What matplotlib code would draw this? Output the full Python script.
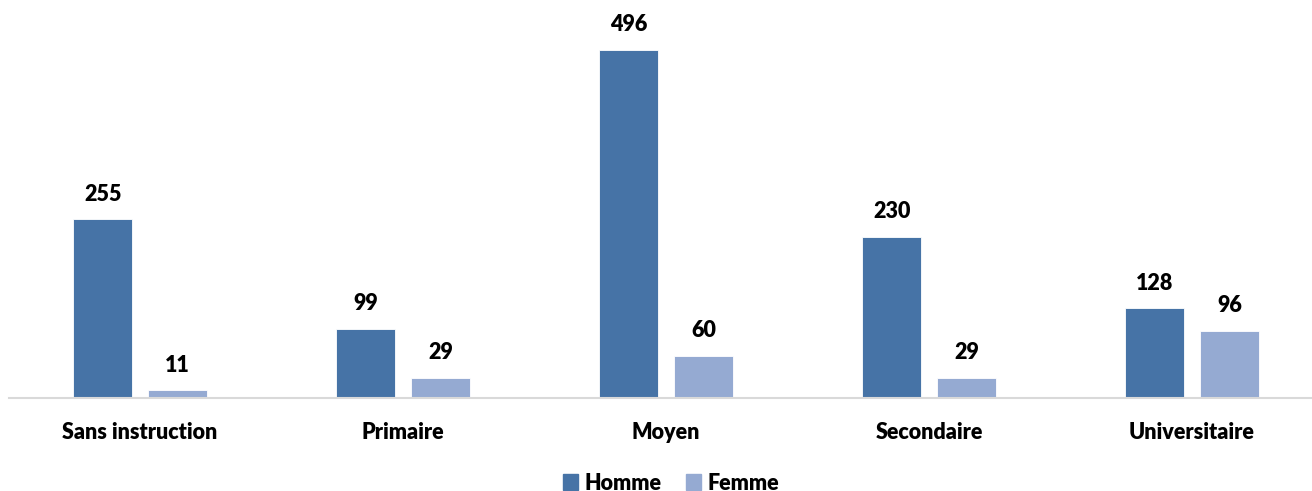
import matplotlib
matplotlib.use("Agg")
import matplotlib.pyplot as plt
import numpy as np

categories = ["Sans instruction", "Primaire", "Moyen", "Secondaire", "Universitaire"]
homme = [255, 99, 496, 230, 128]
femme = [11, 29, 60, 29, 96]
series_names = ["Homme", "Femme"]
colors = ["#4673A6", "#95AAD2"]

plt.rcParams['font.family'] = ['Lato', 'DejaVu Sans']

W, H = 1312, 491
fig = plt.figure(figsize=(W/100, H/100), dpi=100)
left_px, bottom_px = 8.5, 93
ax = fig.add_axes([left_px/W, bottom_px/H, 1 - left_px/W, 1 - bottom_px/H])

cat_w = 263.0
x = np.arange(len(categories))
bw = 0.222
off = 0.142
for vals, o, c in [(homme, -off, colors[0]), (femme, off, colors[1])]:
    bars = ax.bar(x + o, vals, bw, color=c, edgecolor="#FFFFFF", linewidth=0.6)
    for b, v in zip(bars, vals):
        ax.annotate(str(v), (b.get_x() + b.get_width()/2, v), xytext=(0, 25),
                    textcoords="offset pixels", ha="center", va="center",
                    fontsize=15.5, fontweight="heavy", color="black")

xmin = -0.5
xmax = xmin + (W - left_px) / cat_w
ax.set_xlim(xmin, xmax)
ax.set_ylim(0, 567)

for s in ["top", "right", "left"]:
    ax.spines[s].set_visible(False)
ax.spines["bottom"].set_color("#D9D9D9")
ax.spines["bottom"].set_linewidth(1.5)
ax.set_yticks([])
ax.set_xticks(x)
ax.set_xticklabels(categories, fontsize=15.5, fontweight="heavy")
ax.tick_params(axis="x", length=0, pad=17)

from matplotlib.patches import Patch
handles = [Patch(color=c) for c in colors]
fig.legend(handles, series_names, loc="center", bbox_to_anchor=(671/W, 1 - 483/H),
           ncol=2, frameon=False, prop={"size": 15.5, "weight": "heavy"},
           handlelength=0.7, handleheight=0.7, handletextpad=0.3, columnspacing=1.1)

fig.savefig("out.png", dpi=100)
